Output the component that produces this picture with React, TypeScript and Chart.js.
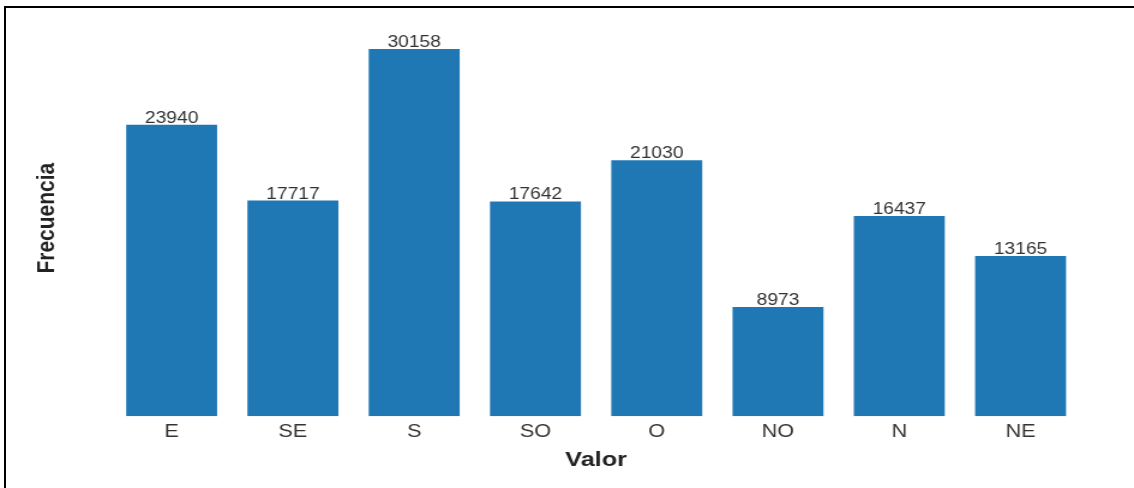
import React, { useEffect, useRef } from "react";
import { Chart, registerables } from "chart.js";

Chart.register(...registerables);

const categories = ["E", "SE", "S", "SO", "O", "NO", "N", "NE"];
const frequencies = [23940, 17717, 30158, 17642, 21030, 8973, 16437, 13165];
const xTitle = "Valor";
const yTitle = "Frecuencia";

const FONT = "'Liberation Sans', Arial, Helvetica, sans-serif";
const STRETCH = 1.2;

const valueLabels = {
  id: "valueLabels",
  afterDatasetsDraw(chart: any) {
    const { ctx } = chart;
    const meta = chart.getDatasetMeta(0);
    ctx.save();
    ctx.font = `16px ${FONT}`;
    ctx.fillStyle = "#333333";
    ctx.textAlign = "center";
    ctx.textBaseline = "alphabetic";
    meta.data.forEach((bar: any, i: number) => {
      ctx.fillText(String(frequencies[i]), bar.x, bar.y - 2);
    });
    ctx.restore();
  },
};

export default function App() {
  const ref = useRef<HTMLCanvasElement>(null);
  useEffect(() => {
    if (!ref.current) return;
    const chart = new Chart(ref.current, {
      type: "bar",
      data: {
        labels: categories,
        datasets: [
          {
            data: frequencies,
            backgroundColor: "#1f77b4",
            borderWidth: 0,
            categoryPercentage: 0.75,
            barPercentage: 1.0,
          },
        ],
      },
      options: {
        animation: false,
        responsive: true,
        maintainAspectRatio: false,
        layout: { padding: { left: 20, right: 44, top: 20, bottom: 10 } },
        plugins: { legend: { display: false }, tooltip: { enabled: false } },
        scales: {
          x: {
            grid: { display: false, drawTicks: false },
            border: { display: false },
            ticks: {
              padding: 7,
              color: "#333333",
              font: { family: FONT, size: 18, lineHeight: 0.95 },
            },
            title: {
              display: true,
              text: xTitle,
              color: "#222222",
              font: { family: FONT, size: 21, weight: "bold" },
              padding: { top: 0, bottom: 5.4 },
            },
          },
          y: {
            min: 0,
            max: 32540,
            grid: { display: false, drawTicks: false },
            border: { display: false },
            ticks: { display: false },
            title: {
              display: true,
              text: yTitle,
              color: "#222222",
              font: { family: FONT, size: 21, weight: "bold" },
              padding: { top: 6.6, bottom: 40.7 },
            },
          },
        },
      },
      plugins: [valueLabels],
    });
    return () => chart.destroy();
  }, []);

  return (
    <div>
      <div
        style={{
          position: "fixed",
          left: 4,
          top: 6,
          width: 2000,
          height: 2000,
          borderTop: "2px solid #000",
          borderLeft: "2px solid #000",
          zIndex: 0,
        }}
      />
      <div
        style={{
          position: "fixed",
          left: 0,
          top: 0,
          width: 1134 / STRETCH,
          height: 488,
          transform: `scaleX(${STRETCH})`,
          transformOrigin: "0 0",
          zIndex: 1,
        }}
      >
        <canvas ref={ref} />
      </div>
    </div>
  );
}
